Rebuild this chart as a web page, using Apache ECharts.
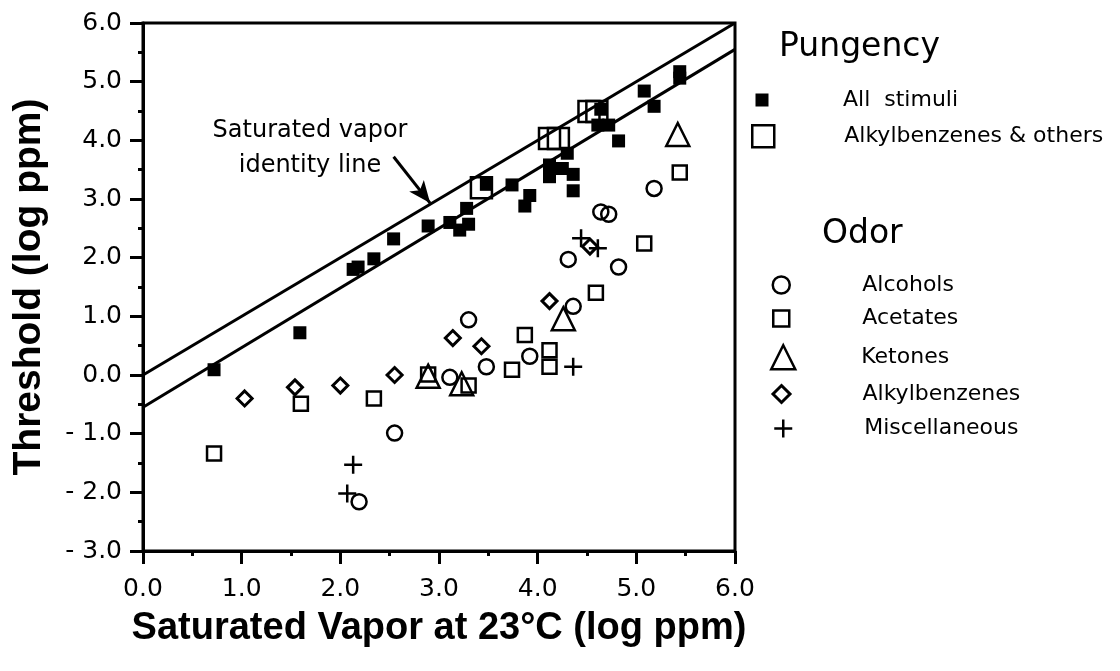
<!DOCTYPE html>
<html><head><meta charset="utf-8">
<script src="https://cdn.jsdelivr.net/npm/echarts@6/dist/echarts.min.js"></script>
<style>html,body{margin:0;padding:0;background:#fff}#c{width:1120px;height:671px}</style>
</head><body><div id="c"></div>
<script>
// ---- data ----
const xTickValues = [0, 1, 2, 3, 4, 5, 6];
const xTickLabels = ['0.0', '1.0', '2.0', '3.0', '4.0', '5.0', '6.0'];
const yTickValues = [-3, -2, -1, 0, 1, 2, 3, 4, 5, 6];
const yTickLabels = ['- 3.0', '- 2.0', '- 1.0', '0.0', '1.0', '2.0', '3.0', '4.0', '5.0', '6.0'];

const identityLine = [[0, 0], [6, 6]];
const lowerLine = [[0, -0.55], [6, 5.55]];
const arrowFrom = [2.54, 3.72];
const arrowTo = [2.91, 2.93];

const allStimuli = [
  [0.72, 0.09], [1.59, 0.72], [2.13, 1.80], [2.18, 1.84], [2.34, 1.98], [2.54, 2.32],
  [2.89, 2.54], [3.11, 2.60], [3.21, 2.47], [3.30, 2.57], [3.28, 2.84], [3.48, 3.25],
  [3.74, 3.24], [3.87, 2.88], [3.92, 3.06], [4.12, 3.58], [4.12, 3.38], [4.25, 3.52],
  [4.36, 3.42], [4.36, 3.14], [4.30, 3.78], [4.64, 4.53], [4.61, 4.26], [4.72, 4.26],
  [4.82, 3.99], [5.08, 4.84], [5.18, 4.58], [5.44, 5.17], [5.44, 5.06]
];
const alkylOthers = [[3.43, 3.19], [4.12, 4.03], [4.21, 4.03], [4.52, 4.49], [4.60, 4.49]];
const alcohols = [
  [2.19, -2.16], [2.55, -0.99], [3.11, -0.04], [3.30, 0.94], [3.48, 0.14], [3.92, 0.32],
  [4.36, 1.17], [4.31, 1.97], [4.82, 1.84], [4.64, 2.78], [4.72, 2.74], [5.18, 3.18]
];
const acetates = [
  [0.72, -1.34], [1.60, -0.49], [2.34, -0.40], [2.89, 0.01], [3.30, -0.18], [3.74, 0.09],
  [3.87, 0.68], [4.12, 0.42], [4.12, 0.14], [4.59, 1.40], [5.08, 2.24], [5.44, 3.45]
];
const ketones = [[2.89, -0.02], [3.23, -0.15], [4.26, 0.96], [5.42, 4.10]];
const alkylbenzenes = [
  [1.03, -0.40], [1.54, -0.21], [2.00, -0.18], [2.55, 0.00], [3.14, 0.63], [3.43, 0.49],
  [4.12, 1.26], [4.53, 2.19]
];
const misc = [[2.07, -2.02], [2.13, -1.53], [4.36, 0.14], [4.44, 2.33], [4.61, 2.16]];

// ---- chart ----
const FONT = 'DejaVu Sans';
const PLUS = 'path://M10,0 L10,20 M0,10 L20,10';
const ink = '#000';

function openStyle(w) { return { color: 'transparent', borderColor: ink, borderWidth: w, opacity: 1 }; }

const legendItems = [
  { name: 'All stimuli', cx: 762, cy: 102, s: 13, tx: 843, bw: 0 },
  { name: 'Alkylbenzenes & others', cx: 762, cy: 137, s: 22, tx: 843, bw: 2.5 },
  { name: 'Alcohols', cx: 780, cy: 287, s: 17, tx: 861, bw: 2.5 },
  { name: 'Acetates', cx: 780, cy: 320.5, s: 16, tx: 861, bw: 2.5 },
  { name: 'Ketones', cx: 782, cy: 357, s: 24, tx: 860, bw: 2.5 },
  { name: 'Alkylbenzenes', cx: 780, cy: 396, s: 17, tx: 861, bw: 3 },
  { name: 'Miscellaneous', cx: 782, cy: 430.5, s: 18, tx: 863, bw: 2.5 }
];
const legendLabels = { 'All stimuli': 'All  stimuli' };

const chart = echarts.init(document.getElementById('c'), null, { renderer: 'canvas' });
chart.setOption({
  animation: false,
  backgroundColor: '#fff',
  grid: { left: 143, right: 385, top: 23, bottom: 120, show: true, borderColor: ink, borderWidth: 3, backgroundColor: 'transparent' },
  xAxis: {
    type: 'value', min: 0, max: 6, interval: 1,
    name: 'Saturated Vapor at 23°C (log ppm)', nameLocation: 'middle', nameGap: 59,
    nameTextStyle: { fontFamily: 'Liberation Sans', fontWeight: 'bold', fontSize: 38, color: ink },
    axisLine: { show: true, onZero: false, lineStyle: { color: ink, width: 3 } },
    axisTick: { show: true, length: 13, lineStyle: { color: ink, width: 3 } },
    minorTick: { show: true, splitNumber: 2, length: 5, lineStyle: { color: ink, width: 3 } },
    splitLine: { show: false },
    axisLabel: { margin: 26, fontFamily: FONT, fontSize: 25, color: ink,
      formatter: v => xTickLabels[xTickValues.indexOf(Math.round(v))] }
  },
  yAxis: {
    type: 'value', min: -3, max: 6, interval: 1,
    name: 'Threshold (log ppm)', nameLocation: 'middle', nameGap: 94,
    nameTextStyle: { fontFamily: 'Liberation Sans', fontWeight: 'bold', fontSize: 39, color: ink },
    axisLine: { show: true, onZero: false, lineStyle: { color: ink, width: 3 } },
    axisTick: { show: true, length: 13, lineStyle: { color: ink, width: 3 } },
    minorTick: { show: true, splitNumber: 2, length: 5, lineStyle: { color: ink, width: 3 } },
    splitLine: { show: false },
    axisLabel: { margin: 21, fontFamily: FONT, fontSize: 25, color: ink,
      formatter: v => yTickLabels[yTickValues.indexOf(Math.round(v))] }
  },
  legend: legendItems.map(it => {
    const h = Math.max(it.s, 26);
    return {
      data: [it.name], left: it.cx - it.s / 2, top: it.cy - h / 2,
      itemWidth: it.s, itemHeight: it.s, itemGap: 0, padding: 0, selectedMode: false,
      itemStyle: { borderWidth: it.bw, borderColor: ink },
      formatter: n => legendLabels[n] || n,
      textStyle: { fontFamily: FONT, fontSize: 22, color: ink, padding: [0, 0, 0, it.tx - (it.cx + it.s / 2) - 5] }
    };
  }),
  graphic: [
    { type: 'text', x: 779, y: 47, style: { text: 'Pungency', fontFamily: FONT, fontSize: 33, fontWeight: 500, fill: ink, align: 'left', verticalAlign: 'middle' } },
    { type: 'text', x: 822, y: 234, style: { text: 'Odor', fontFamily: FONT, fontSize: 33, fontWeight: 500, fill: ink, align: 'left', verticalAlign: 'middle' } },
    { type: 'text', x: 310, y: 148, style: { text: 'Saturated vapor\nidentity line', fontFamily: FONT, fontSize: 24, lineHeight: 35, fill: ink, align: 'center', verticalAlign: 'middle' } }
  ],
  series: [
    { type: 'line', name: 'identity', data: identityLine, symbol: 'none', silent: true,
      lineStyle: { color: ink, width: 3 },
      markLine: { silent: true, symbol: ['none', 'arrow'], symbolSize: [14, 22], label: { show: false },
        itemStyle: { color: ink },
        lineStyle: { color: ink, width: 3, type: 'solid', opacity: 1 },
        emphasis: { disabled: true },
        data: [[{ coord: arrowFrom }, { coord: arrowTo }]] } },
    { type: 'line', name: 'lower', data: lowerLine, symbol: 'none', silent: true, lineStyle: { color: ink, width: 3 } },
    { type: 'scatter', name: 'Alkylbenzenes & others', data: alkylOthers, symbol: 'rect', symbolSize: 21, itemStyle: openStyle(2.5) },
    { type: 'scatter', name: 'Alcohols', data: alcohols, symbol: 'circle', symbolSize: 15, itemStyle: openStyle(2.5) },
    { type: 'scatter', name: 'Acetates', data: acetates, symbol: 'rect', symbolSize: 14, itemStyle: openStyle(2.5) },
    { type: 'scatter', name: 'Ketones', data: ketones, symbol: 'triangle', symbolSize: 23, itemStyle: openStyle(2.5) },
    { type: 'scatter', name: 'Alkylbenzenes', data: alkylbenzenes, symbol: 'diamond', symbolSize: 15, itemStyle: openStyle(3) },
    { type: 'scatter', name: 'Miscellaneous', data: misc, symbol: PLUS, symbolSize: 18, itemStyle: openStyle(2.5) },
    { type: 'scatter', name: 'All stimuli', data: allStimuli, symbol: 'rect', symbolSize: 13, itemStyle: { color: ink, opacity: 1 } }
  ]
});
</script></body></html>
